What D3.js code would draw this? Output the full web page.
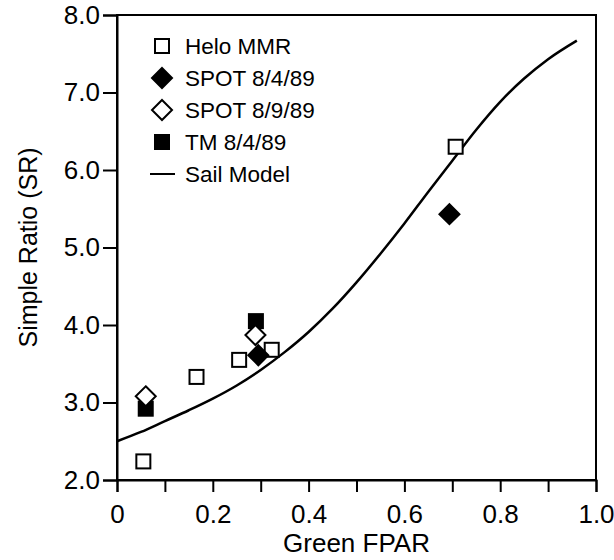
<!DOCTYPE html>
<html>
<head>
<meta charset="utf-8">
<script src="https://cdn.jsdelivr.net/npm/d3@7"></script>
<style>
  html, body { margin: 0; padding: 0; background: #fff; }
  svg { display: block; }
  text { font-family: "Liberation Sans", Arial, Helvetica, sans-serif; fill: #000; }
</style>
</head>
<body>
<svg id="chart" width="614" height="560"></svg>
<script>
// Helo MMR radiometer measurements (open squares)
const heloFpar = [0.055, 0.166, 0.255, 0.323, 0.707];
const heloSR   = [2.24, 3.33, 3.55, 3.68, 6.30];

// SPOT 8/4/89 (filled diamonds)
const spot84Fpar = [0.295, 0.694];
const spot84SR   = [3.61, 5.43];

// SPOT 8/9/89 (open diamonds)
const spot89Fpar = [0.060, 0.289];
const spot89SR   = [3.08, 3.87];

// TM 8/4/89 (filled squares)
const tmFpar = [0.060, 0.290];
const tmSR   = [2.92, 4.05];

// SAIL canopy model curve
const sailFpar = [0.00, 0.05, 0.10, 0.15, 0.20, 0.25, 0.30, 0.35, 0.40, 0.45, 0.50,
                  0.55, 0.60, 0.65, 0.70, 0.75, 0.80, 0.85, 0.90, 0.96];
const sailSR   = [2.50, 2.62, 2.76, 2.90, 3.05, 3.22, 3.42, 3.65, 3.91, 4.21, 4.55,
                  4.92, 5.31, 5.72, 6.12, 6.52, 6.88, 7.18, 7.43, 7.67];

// Axis ticks
const xTickValues = [0, 0.1, 0.2, 0.3, 0.4, 0.5, 0.6, 0.7, 0.8, 0.9, 1.0];
const xTickLabels = ["0", "", "0.2", "", "0.4", "", "0.6", "", "0.8", "", "1.0"];
const yTickValues = [2, 3, 4, 5, 6, 7, 8];
const yTickLabels = ["2.0", "3.0", "4.0", "5.0", "6.0", "7.0", "8.0"];

const legendLabels = ["Helo MMR", "SPOT 8/4/89", "SPOT 8/9/89", "TM 8/4/89", "Sail Model"];

const margin = { left: 117, right: 18, top: 15, bottom: 80 };
const W = 614, H = 560;
const svg = d3.select("#chart");

const x = d3.scaleLinear().domain([0, 1]).range([margin.left, W - margin.right]);
const y = d3.scaleLinear().domain([2, 8]).range([H - margin.bottom, margin.top]);

// Frame
svg.append("rect")
  .attr("x", x(0)).attr("y", y(8))
  .attr("width", x(1) - x(0)).attr("height", y(2) - y(8))
  .attr("fill", "none").attr("stroke", "#000").attr("stroke-width", 2);

// X axis
const xAxis = d3.axisBottom(x)
  .tickValues(xTickValues)
  .tickSize(12)
  .tickPadding(13)
  .tickFormat((d, i) => xTickLabels[i]);
const gx = svg.append("g").attr("transform", `translate(0,${y(2)})`).call(xAxis);
gx.select(".domain").attr("stroke-width", 2);
gx.selectAll(".tick line").attr("stroke-width", 2);
gx.selectAll(".tick text").style("font-size", "26px");

// Y axis
const yAxis = d3.axisLeft(y)
  .tickValues(yTickValues)
  .tickSize(14)
  .tickPadding(3)
  .tickFormat((d, i) => yTickLabels[i]);
const gy = svg.append("g").attr("transform", `translate(${x(0)},0)`).call(yAxis);
gy.select(".domain").attr("stroke-width", 2);
gy.selectAll(".tick line").attr("stroke-width", 2);
gy.selectAll(".tick text").style("font-size", "26px");

// Axis titles
svg.append("text")
  .attr("x", (x(0) + x(1)) / 2).attr("y", 552)
  .attr("text-anchor", "middle")
  .style("font-size", "26px")
  .text("Green FPAR");

svg.append("text")
  .attr("transform", `translate(37,${(y(2) + y(8)) / 2}) rotate(-90)`)
  .attr("text-anchor", "middle")
  .style("font-size", "25px")
  .text("Simple Ratio (SR)");

// Model curve
const line = d3.line()
  .x((d, i) => x(sailFpar[i]))
  .y((d, i) => y(sailSR[i]))
  .curve(d3.curveMonotoneX);
svg.append("path")
  .datum(sailSR)
  .attr("d", line)
  .attr("fill", "none")
  .attr("stroke", "#000")
  .attr("stroke-width", 2.5);

// Marker helpers
const SQ = 14;   // square side
const DM = 10;   // diamond half-diagonal
function square(g, cx, cy, filled) {
  g.append("rect")
    .attr("x", cx - SQ / 2).attr("y", cy - SQ / 2)
    .attr("width", SQ).attr("height", SQ)
    .attr("fill", filled ? "#000" : "#fff")
    .attr("stroke", "#000").attr("stroke-width", 2);
}
function diamond(g, cx, cy, filled) {
  g.append("path")
    .attr("d", `M${cx},${cy - DM}L${cx + DM},${cy}L${cx},${cy + DM}L${cx - DM},${cy}Z`)
    .attr("fill", filled ? "#000" : "#fff")
    .attr("stroke", "#000").attr("stroke-width", 2)
    .attr("stroke-linejoin", "miter");
}

const marks = svg.append("g");
heloFpar.forEach((f, i) => square(marks, x(f), y(heloSR[i]), false));
tmFpar.forEach((f, i) => square(marks, x(f), y(tmSR[i]), true));
spot89Fpar.forEach((f, i) => diamond(marks, x(f), y(spot89SR[i]), false));
spot84Fpar.forEach((f, i) => diamond(marks, x(f), y(spot84SR[i]), true));

// Legend
const legend = svg.append("g");
const lx = 162, ly0 = 46, dy = 32;
square(legend, lx, ly0, false);
diamond(legend, lx, ly0 + dy, true);
diamond(legend, lx, ly0 + 2 * dy, false);
square(legend, lx, ly0 + 3 * dy, true);
legend.append("line")
  .attr("x1", lx - 12).attr("x2", lx + 13)
  .attr("y1", ly0 + 4 * dy).attr("y2", ly0 + 4 * dy)
  .attr("stroke", "#000").attr("stroke-width", 2);
legendLabels.forEach((t, i) => {
  legend.append("text")
    .attr("x", 185).attr("y", ly0 + i * dy)
    .attr("dy", "0.35em")
    .style("font-size", "22.5px")
    .text(t);
});
</script>
</body>
</html>
